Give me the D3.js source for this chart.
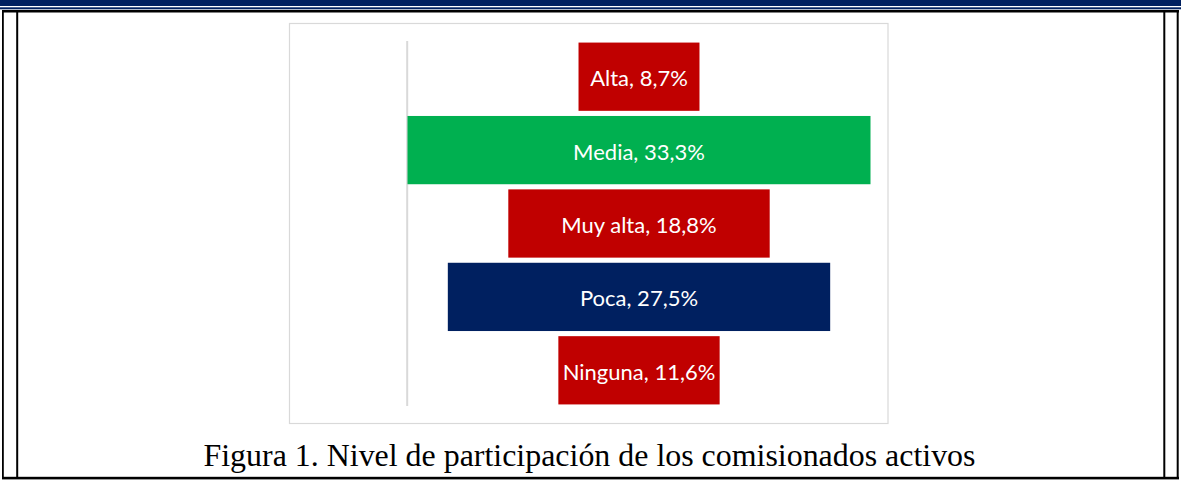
<!DOCTYPE html>
<html>
<head>
<meta charset="utf-8">
<script src="https://cdn.jsdelivr.net/npm/d3@7"></script>
<style>
  html, body { margin: 0; padding: 0; background: #fff; }
  svg { display: block; }
</style>
</head>
<body>
<svg id="funnel" width="1181" height="480"></svg>
<script>
// ************************************
// Data
// ************************************
const categories = ["Alta", "Media", "Muy alta", "Poca", "Ninguna"];
const values = [8.7, 33.3, 18.8, 27.5, 11.6];
const labels = ["Alta, 8,7%", "Media, 33,3%", "Muy alta, 18,8%", "Poca, 27,5%", "Ninguna, 11,6%"];
const colors = ["#C00000", "#00B050", "#C00000", "#002060", "#C00000"];
const caption = "Figura 1. Nivel de participación de los comisionados activos";

const svg = d3.select("#funnel");
const W = 1181, H = 480;

// page decoration: navy band on top, table borders
svg.append("rect").attr("x", 0).attr("y", 0).attr("width", W).attr("height", 6).attr("fill", "#002060");
svg.append("rect").attr("x", 0).attr("y", 7.3).attr("width", W).attr("height", 2).attr("fill", "#002060");

const border = svg.append("g").attr("fill", "#000");
border.append("rect").attr("x", 2).attr("y", 10).attr("width", 1177).attr("height", 2.5);   // top
border.append("rect").attr("x", 2).attr("y", 476.8).attr("width", 1177).attr("height", 2.6); // bottom
border.append("rect").attr("x", 2).attr("y", 10).attr("width", 1.8).attr("height", 469);     // outer left
border.append("rect").attr("x", 16.2).attr("y", 10).attr("width", 2).attr("height", 469);    // inner left
border.append("rect").attr("x", 1163.3).attr("y", 10).attr("width", 2).attr("height", 469);  // inner right
border.append("rect").attr("x", 1176.7).attr("y", 10).attr("width", 2).attr("height", 469);  // outer right

// chart frame
svg.append("rect")
    .attr("x", 289.5).attr("y", 23.5)
    .attr("width", 598.5).attr("height", 400)
    .attr("fill", "#fff")
    .attr("stroke", "#D9D9D9")
    .attr("stroke-width", 1.2);

// ************************************
// Scales
// ************************************
const x = d3.scaleLinear().domain([0, d3.max(values)]).range([407.5, 870.5]);
const cx = (x.range()[0] + x.range()[1]) / 2;

const y = d3.scaleBand()
    .domain(categories)
    .range([40, 407])
    .paddingInner(0.07)
    .paddingOuter(0.035);

// vertical axis line
svg.append("line")
    .attr("x1", 407.2).attr("x2", 407.2)
    .attr("y1", 41).attr("y2", 406)
    .attr("stroke", "#D9D9D9")
    .attr("stroke-width", 2);

// bars, centred around the middle of the value range
const rows = categories.map((c, i) => ({ cat: c, v: values[i], label: labels[i], color: colors[i] }));

const bars = svg.append("g").selectAll("g")
    .data(rows)
    .enter()
    .append("g");

bars.append("rect")
    .attr("x", d => cx - (x(d.v) - x(0)) / 2)
    .attr("y", d => y(d.cat))
    .attr("width", d => x(d.v) - x(0))
    .attr("height", y.bandwidth())
    .attr("fill", d => d.color);

bars.append("text")
    .attr("x", cx)
    .attr("y", d => y(d.cat) + y.bandwidth() / 2 + 1)
    .attr("text-anchor", "middle")
    .attr("dominant-baseline", "central")
    .attr("fill", "#fff")
    .style("font-family", "Lato, 'Open Sans', sans-serif")
    .style("font-size", "22px")
    .text(d => d.label);

// caption
svg.append("text")
    .attr("x", 589.5)
    .attr("y", 466)
    .attr("text-anchor", "middle")
    .attr("fill", "#000")
    .style("font-family", "'Liberation Serif', 'Times New Roman', serif")
    .style("font-size", "31px")
    .attr("textLength", 772)
    .attr("lengthAdjust", "spacingAndGlyphs")
    .text(caption);
</script>
</body>
</html>
